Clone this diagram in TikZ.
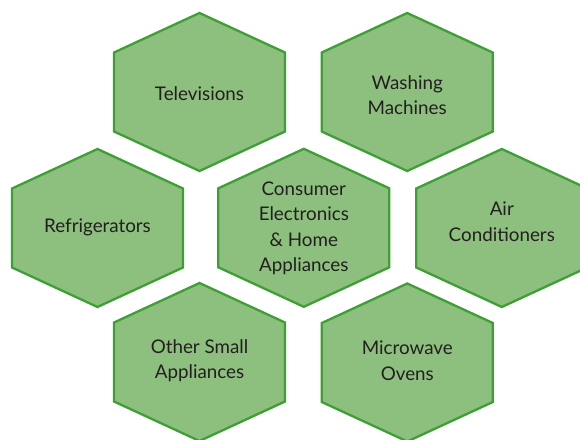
\documentclass[tikz,border=0pt]{standalone}
\usepackage{fontspec}
\setmainfont{Lato}
\definecolor{hexfill}{RGB}{141,191,126}
\definecolor{hexline}{RGB}{62,160,52}
\definecolor{txt}{RGB}{35,31,32}
\newcommand\hexagonat[2]{%
  \draw[hexbox] (#1,#2) ++(0,-79.5) -- ++(85.5,39.5) -- ++(0,79) -- ++(-85.5,39.5) -- ++(-85.5,-39.5) -- ++(0,-79) -- cycle;}
\begin{document}
\begin{tikzpicture}[x=1pt,y=-1pt,
  hexbox/.style={fill=hexfill,draw=hexline,line width=2.3pt,line join=miter},
  label/.style={text=txt,font=\fontsize{18.8}{25.5}\selectfont,align=center,inner sep=0pt}]
\useasboundingbox (0,0) rectangle (580,439);
\clip (0,0) rectangle (580,439);
\hexagonat{199.5}{92.5}
\hexagonat{407.2}{92.5}
\hexagonat{97.5}{228.5}
\hexagonat{303.8}{228.3}
\hexagonat{501.8}{228.5}
\hexagonat{199.5}{362.5}
\hexagonat{407.3}{363}
\node[label] (tv) at (199.5,94) {Televisions};
\node[label] (wm) at (407.2,95) {Washing\\Machines};
\node[label] (rf) at (97.5,227) {Refrigerators};
\node[label] (ce) at (303.8,228.5) {Consumer\\Electronics\\\& Home\\Appliances};
\node[label] (ac) at (501.8,221.5) {Air\\Conditioners};
\node[label] (os) at (199.5,360.5) {Other Small\\Appliances};
\node[label] (mo) at (407.3,360.5) {Microwave\\Ovens};
\end{tikzpicture}
\end{document}
